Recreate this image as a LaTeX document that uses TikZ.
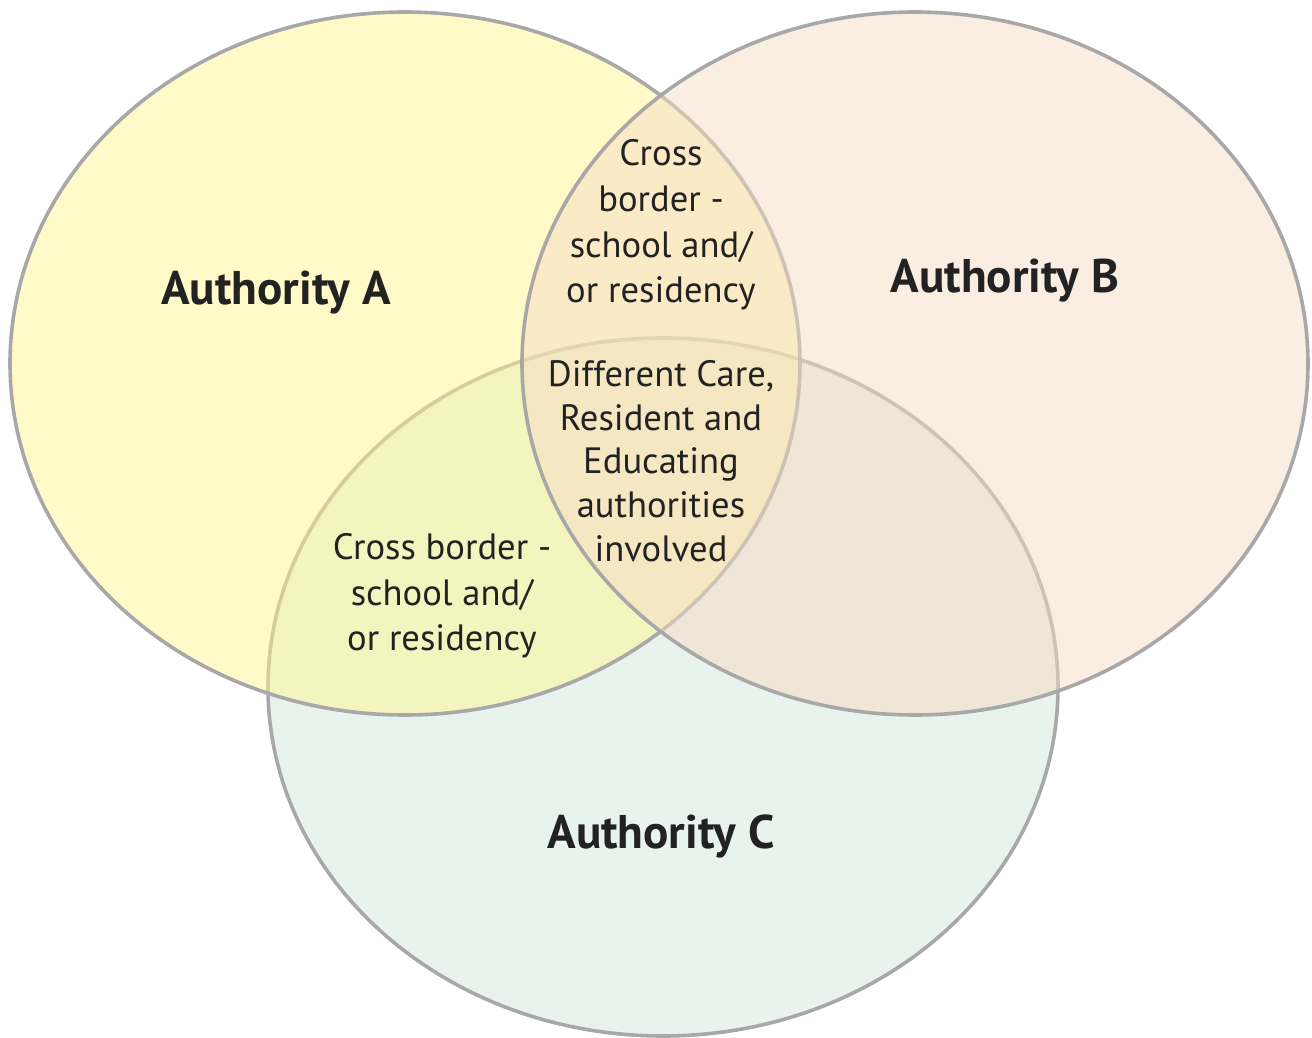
\documentclass[tikz,border=0pt]{standalone}
\usepackage{fontspec}
\setmainfont{PT Sans}
\definecolor{edge}{HTML}{A8A8A8}
\definecolor{cfill}{RGB}{233,243,238}
\definecolor{afill}{RGB}{255,245,145}
\definecolor{bfill}{RGB}{245,219,195}
\definecolor{ink}{HTML}{222222}
\tikzset{
  setring/.style={draw=edge, line width=1.8pt},
  bigtitle/.style={text=ink, font=\bfseries\fontsize{23.6}{28}\selectfont},
  smalltext/.style={text=ink, align=center, font=\fontsize{18.3}{22.8}\selectfont},
}
\begin{document}
\begin{tikzpicture}[x=0.5pt,y=-0.5pt]
\useasboundingbox (0,0) rectangle (1312,1038);
% C first, then A, then B (translucent fills tint the outlines beneath)
\path[setring, fill=cfill] (663,687) ellipse [x radius=395, y radius=349];
\path[setring, fill=afill, fill opacity=0.5] (405,363.5) ellipse [x radius=395, y radius=351.5];
\path[setring, fill=bfill, fill opacity=0.5] (915,363.5) ellipse [x radius=393, y radius=351.5];
% labels
\node[bigtitle] (la) at (276,293) {Authority A};
\node[bigtitle] (lb) at (1005,281) {Authority B};
\node[bigtitle] (lc) at (661,836) {Authority C};
\node[smalltext] (ab) at (661,225) {Cross\\border -\\school and/\\or residency};
\node[smalltext] (ac) at (442,596) {Cross border -\\school and/\\or residency};
\node[smalltext, font=\fontsize{18.3}{21.8}\selectfont] (abc) at (661,461) {Different Care,\\Resident and\\Educating\\authorities\\involved};
\end{tikzpicture}
\end{document}
